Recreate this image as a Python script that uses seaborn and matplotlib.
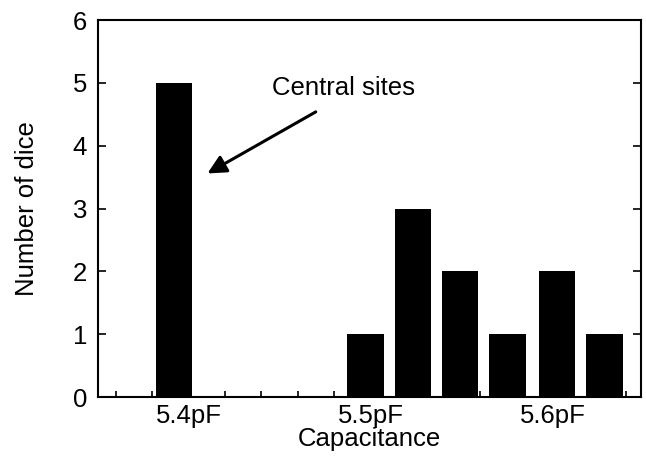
import pandas as pd
import matplotlib
matplotlib.use("Agg")
import matplotlib.pyplot as plt
from matplotlib.ticker import MultipleLocator
import seaborn as sns

# capacitance bin centres (pF) and number of dice in each
capacitance = [5.392, 5.497, 5.523, 5.549, 5.575, 5.602, 5.628]
dice_count = [5, 1, 3, 2, 1, 2, 1]
tick_labels = ["5.4pF", "5.5pF", "5.6pF"]

df = pd.DataFrame({"cap": capacitance, "count": dice_count})

sns.set_style("ticks")
plt.rcParams["font.family"] = ["Liberation Sans", "DejaVu Sans"]
plt.rcParams["text.color"] = "black"
plt.rcParams["axes.labelcolor"] = "black"
plt.rcParams["xtick.color"] = "black"
plt.rcParams["ytick.color"] = "black"

fig = plt.figure(figsize=(6.46, 4.58), dpi=100)
ax = fig.add_axes([0.152, 0.133, 0.841, 0.823])

sns.barplot(data=df, x="cap", y="count", native_scale=True, orient="x",
            color="black", saturation=1, width=0.77, edgecolor="black",
            linewidth=0, ax=ax)

ax.set_xlim(5.3505, 5.6484)
ax.set_ylim(0, 6)
ax.set_xticks([5.4, 5.5, 5.6])
ax.set_xticklabels(tick_labels)
ax.xaxis.set_minor_locator(MultipleLocator(0.02))
ax.set_yticks(range(7))

fs = 18.5
ax.tick_params(axis="x", which="both", direction="in", length=4, width=1.2,
               labelsize=fs, pad=5)
ax.tick_params(axis="y", direction="in", length=6, width=1.2,
               labelsize=fs, pad=8, right=True)
for s in ax.spines.values():
    s.set_linewidth(1.5)
    s.set_color("black")

ax.set_xlabel("Capacitance", fontsize=fs, labelpad=-1)
ax.set_ylabel("Number of dice", fontsize=fs, labelpad=24)

ax.text(5.4852, 4.92, "Central sites", fontsize=fs, ha="center", va="center")
ax.annotate("", xy=(5.4104, 3.56), xytext=(5.4698, 4.54),
            arrowprops=dict(arrowstyle="-|>", color="black", lw=2.2,
                            mutation_scale=28, shrinkA=0, shrinkB=0))

fig.savefig("out.png", dpi=100)
